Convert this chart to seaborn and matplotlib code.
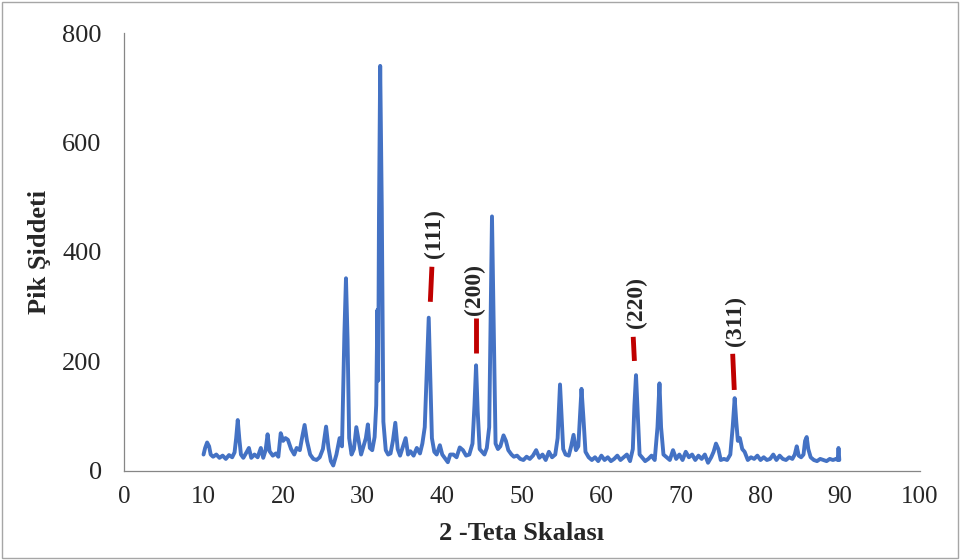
import matplotlib
matplotlib.use("Agg")
import matplotlib.pyplot as plt
import seaborn as sns
import pandas as pd
from matplotlib.patches import Rectangle

# XRD pattern (2-theta, intensity)
two_theta = [
    10.0, 10.2, 10.45, 10.7, 10.9, 11.2, 11.6, 12.0, 12.4, 12.8, 13.2, 13.6, 13.9,
    14.1, 14.3, 14.5, 14.7, 15.0, 15.4, 15.7, 16.0, 16.4, 16.8, 17.2, 17.5, 17.8,
    18.05, 18.3, 18.7, 19.1, 19.4, 19.7, 20.0, 20.3, 20.6, 21.0, 21.4, 21.7, 22.1,
    22.4, 22.7, 23.0, 23.4, 23.8, 24.2, 24.6, 25.0, 25.4, 25.7, 26.0, 26.3, 26.7,
    27.1, 27.4, 27.7, 27.9, 28.1, 28.3, 28.6, 28.9, 29.2, 29.5, 29.8, 30.1, 30.4,
    30.65, 30.9, 31.2, 31.5, 31.7, 31.85, 31.95, 32.05, 32.2, 32.4, 32.6, 32.9,
    33.2, 33.5, 33.8, 34.1, 34.4, 34.7, 35.0, 35.4, 35.7, 36.0, 36.4, 36.8, 37.2,
    37.5, 37.8, 38.05, 38.3, 38.5, 38.7, 39.0, 39.3, 39.7, 40.0, 40.3, 40.7, 41.0,
    41.4, 41.8, 42.2, 42.6, 43.0, 43.4, 43.8, 44.05, 44.25, 44.45, 44.7, 45.0, 45.3,
    45.6, 45.9, 46.1, 46.25, 46.45, 46.7, 47.0, 47.3, 47.7, 48.0, 48.3, 48.7, 49.0,
    49.4, 49.8, 50.2, 50.6, 51.0, 51.4, 51.8, 52.2, 52.6, 53.0, 53.4, 53.8, 54.2,
    54.5, 54.8, 55.0, 55.2, 55.5, 55.9, 56.2, 56.5, 56.8, 57.1, 57.5, 57.75, 58.0,
    58.4, 58.8, 59.2, 59.6, 60.0, 60.4, 60.8, 61.2, 61.6, 62.0, 62.4, 62.8, 63.2,
    63.6, 63.95, 64.15, 64.35, 64.55, 64.8, 65.1, 65.5, 65.9, 66.3, 66.7, 67.05,
    67.3, 67.5, 67.8, 68.2, 68.6, 69.0, 69.4, 69.8, 70.2, 70.6, 71.0, 71.4, 71.8,
    72.2, 72.6, 73.0, 73.4, 73.8, 74.1, 74.4, 74.7, 75.0, 75.4, 75.8, 76.2, 76.5,
    76.75, 76.95, 77.15, 77.4, 77.7, 78.0, 78.4, 78.8, 79.2, 79.6, 80.0, 80.4,
    80.8, 81.2, 81.6, 82.0, 82.4, 82.8, 83.2, 83.6, 84.0, 84.3, 84.55, 84.8, 85.1,
    85.4, 85.6, 85.8, 86.0, 86.3, 86.7, 87.1, 87.5, 87.9, 88.3, 88.7, 89.1, 89.5,
    89.7, 89.8, 89.9,
]
intensity = [
    30, 42, 52, 45, 30, 26, 30, 24, 28, 22, 29, 25, 34,
    60, 93, 58, 30, 24, 34, 42, 24, 30, 25, 42, 24, 38,
    67, 36, 28, 32, 26, 69, 55, 60, 57, 40, 30, 42, 38,
    62, 84, 55, 30, 22, 20, 25, 40, 81, 42, 18, 10, 30,
    60, 45, 250, 352, 240, 60, 30, 40, 80, 55, 30, 45, 60,
    85, 42, 38, 62, 120, 294, 165, 470, 740, 480, 90, 38,
    30, 32, 55, 88, 40, 28, 42, 60, 30, 36, 28, 42, 32,
    50, 80, 180, 280, 170, 60, 35, 30, 47, 30, 24, 16, 30,
    30, 25, 43, 38, 28, 30, 50, 120, 193, 110, 40, 35, 30,
    42, 80, 300, 465, 280, 50, 40, 45, 65, 55, 38, 30, 26,
    28, 22, 20, 26, 22, 28, 38, 24, 30, 20, 35, 25, 30,
    60, 158, 100, 40, 30, 28, 45, 66, 38, 45, 150, 95, 35,
    25, 20, 25, 18, 28, 20, 25, 18, 22, 28, 20, 25, 30,
    18, 40, 120, 175, 110, 30, 25, 18, 22, 28, 20, 80,
    160, 80, 30, 25, 20, 38, 22, 30, 20, 35, 25, 30, 20,
    28, 22, 30, 15, 25, 35, 50, 40, 20, 22, 20, 30, 80,
    133, 90, 55, 60, 40, 35, 20, 25, 22, 28, 20, 25,
    20, 22, 30, 20, 28, 22, 20, 25, 22, 30, 45, 28, 25,
    30, 55, 62, 40, 25, 20, 18, 22, 20, 18, 22, 20, 22,
    20, 42, 20,
]

# Miller index markers: label, (x top, y top), (x bottom, y bottom), label position
hkl_labels = ["(111)", "(200)", "(220)", "(311)"]
mark_x_top = [38.7, 44.3, 64.0, 76.5]
mark_y_top = [373, 279, 245, 214]
mark_x_bot = [38.5, 44.3, 64.15, 76.7]
mark_y_bot = [309, 215, 201, 148]
label_x = [39.0, 44.1, 64.4, 76.8]
label_y = [433, 332, 307, 274]

sns.set_style("white")
plt.rcParams["font.family"] = ["Liberation Serif", "DejaVu Serif"]

df = pd.DataFrame({"2theta": two_theta, "intensity": intensity})

fig = plt.figure(figsize=(9.61, 5.6), dpi=100)
ax = fig.add_axes([0.129, 0.159, 0.828, 0.782])

sns.lineplot(data=df, x="2theta", y="intensity", ax=ax, color="#4472C4",
             linewidth=2.8, estimator=None, sort=False)

for i in range(len(hkl_labels)):
    ax.plot([mark_x_top[i], mark_x_bot[i]], [mark_y_top[i], mark_y_bot[i]],
            color="#C00000", linewidth=3.5, solid_capstyle="butt")
    ax.text(label_x[i], label_y[i], hkl_labels[i], rotation=90, ha="center",
            va="center", fontsize=17, fontweight="bold")

ax.set_xlim(0, 100)
ax.set_ylim(0, 800)
ax.set_xticks(range(0, 101, 10))
ax.set_yticks(range(0, 801, 200))
ax.tick_params(axis="both", direction="out", length=5, width=0.8, color="#868686")
ax.tick_params(axis="x", labelsize=18, pad=6)
ax.tick_params(axis="y", labelsize=19, pad=11)

for side in ["top", "right"]:
    ax.spines[side].set_visible(False)
for side in ["left", "bottom"]:
    ax.spines[side].set_color("#868686")
    ax.spines[side].set_linewidth(0.9)

ax.set_xlabel("2 -Teta Skalası", fontsize=19, fontweight="bold", labelpad=10)
ax.set_ylabel("Pik Şiddeti", fontsize=19, fontweight="bold", labelpad=8)

# outer frame of the chart area
fig.patches.append(Rectangle((0.002, 0.004), 0.995, 0.992, transform=fig.transFigure,
                             fill=False, edgecolor="#A6A6A6", linewidth=1))

fig.savefig("out.png", dpi=100)
